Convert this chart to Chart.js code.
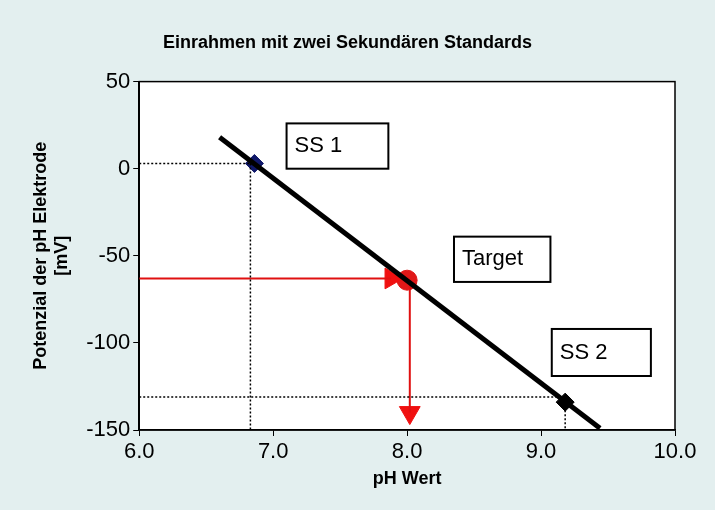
<!DOCTYPE html>
<html><head><meta charset="utf-8">
<script src="https://cdn.jsdelivr.net/npm/chart.js@4"></script>
<style>body{margin:0;background:#e3efef}#wrap{width:715px;height:510px}</style>
</head><body><div id="wrap"><canvas id="c" width="715" height="510"></canvas></div>
<script>
const xTicks = [6.0, 7.0, 8.0, 9.0, 10.0];
const yTicks = [50, 0, -50, -100, -150];
const calLine = [{x: 6.6, y: 18}, {x: 9.44, y: -149}];
const ss1 = {x: 6.86, y: 3};
const ss2 = {x: 9.18, y: -134};
const target = {x: 8.0, y: -64};
const dotted = [
  [{x: 6.0, y: 3}, {x: 6.86, y: 3}],
  [{x: 6.83, y: 3}, {x: 6.83, y: -150}],
  [{x: 6.0, y: -131}, {x: 9.18, y: -131}],
  [{x: 9.18, y: -134}, {x: 9.18, y: -150}]
];
const redH = [{x: 6.0, y: -63}, {x: 7.88, y: -63}];
const redV = [{x: 8.02, y: -64}, {x: 8.02, y: -140}];
const labels = [
  {text: "SS 1", x1: 7.1, y1: 26, x2: 7.86, y2: 0},
  {text: "Target", x1: 8.35, y1: -39, x2: 9.07, y2: -65},
  {text: "SS 2", x1: 9.08, y1: -92, x2: 9.82, y2: -119}
];

const ds = [];
dotted.forEach(d => ds.push({data: d, borderColor: "#000", borderWidth: 1.5, borderDash: [2, 2], pointRadius: 0, showLine: true}));
ds.push({data: calLine, borderColor: "#000", borderWidth: 5, pointRadius: 0, showLine: true});
ds.push({data: redH, borderColor: "#e01010", borderWidth: 2, pointRadius: 0, showLine: true});
ds.push({data: redV, borderColor: "#e01010", borderWidth: 2, pointRadius: 0, showLine: true});
ds.push({data: [redH[1]], pointStyle: "triangle", rotation: 90, pointRadius: 12, backgroundColor: "#f01010", borderColor: "#f01010"});
ds.push({data: [redV[1]], pointStyle: "triangle", rotation: 180, pointRadius: 12, backgroundColor: "#f01010", borderColor: "#f01010"});
ds.push({data: [target], pointStyle: "circle", pointRadius: 10, backgroundColor: "#e01818", borderColor: "#e01818"});
ds.push({data: [ss1], pointStyle: "rectRot", pointRadius: 9, backgroundColor: "#10186a", borderColor: "#10186a"});
ds.push({data: [ss2], pointStyle: "rectRot", pointRadius: 9, backgroundColor: "#000", borderColor: "#000"});

const boxes = {
  id: "boxes",
  beforeDraw(chart) {
    const a = chart.chartArea, g = chart.ctx;
    g.save(); g.fillStyle = "#fff"; g.fillRect(a.left, a.top, a.right - a.left, a.bottom - a.top);
    g.strokeStyle = "#000"; g.lineWidth = 1.5; g.strokeRect(a.left, a.top, a.right - a.left, a.bottom - a.top); g.restore();
  },
  afterDatasetsDraw(chart) {
    const g = chart.ctx, xs = chart.scales.x, ys = chart.scales.y;
    g.save();
    labels.forEach(l => {
      const x1 = xs.getPixelForValue(l.x1), x2 = xs.getPixelForValue(l.x2);
      const y1 = ys.getPixelForValue(l.y1), y2 = ys.getPixelForValue(l.y2);
      g.fillStyle = "#fff"; g.fillRect(x1, y1, x2 - x1, y2 - y1);
      g.strokeStyle = "#000"; g.lineWidth = 2; g.strokeRect(x1, y1, x2 - x1, y2 - y1);
      g.fillStyle = "#000"; g.font = "22px 'Liberation Sans', Arial"; g.textBaseline = "middle";
      g.fillText(l.text, x1 + 8, (y1 + y2) / 2);
    });
    g.restore();
  }
};

new Chart(document.getElementById("c"), {
  type: "scatter",
  data: {datasets: ds},
  plugins: [boxes],
  options: {
    responsive: false, animation: false,
    layout: {padding: {left: 20, right: 40, top: 10, bottom: 20}},
    plugins: {
      legend: {display: false}, tooltip: {enabled: false},
      title: {display: true, text: "Einrahmen mit zwei Sekundären Standards", color: "#000",
        font: {family: "'Liberation Sans', Arial", size: 18, weight: "bold"}, padding: {top: 22, bottom: 28}}
    },
    scales: {
      x: {min: 6, max: 10, afterBuildTicks: s => { s.ticks = xTicks.map(v => ({value: v})); },
        grid: {display: true, drawOnChartArea: false, tickLength: 6, color: "#000"}, border: {color: "#000", width: 1.5},
        ticks: {color: "#000", font: {family: "'Liberation Sans', Arial", size: 22}, callback: v => v.toFixed(1)},
        title: {display: true, text: "pH Wert", color: "#000", font: {family: "'Liberation Sans', Arial", size: 18, weight: "bold"}, padding: 0}},
      y: {min: -150, max: 50, afterBuildTicks: s => { s.ticks = yTicks.map(v => ({value: v})); },
        grid: {display: true, drawOnChartArea: false, tickLength: 6, color: "#000"}, border: {color: "#000", width: 1.5},
        ticks: {color: "#000", font: {family: "'Liberation Sans', Arial", size: 22}},
        title: {display: true, text: ["Potenzial der pH Elektrode", "[mV]"], color: "#000", font: {family: "'Liberation Sans', Arial", size: 18, weight: "bold"}, padding: 10}}
    }
  }
});
</script></body></html>
